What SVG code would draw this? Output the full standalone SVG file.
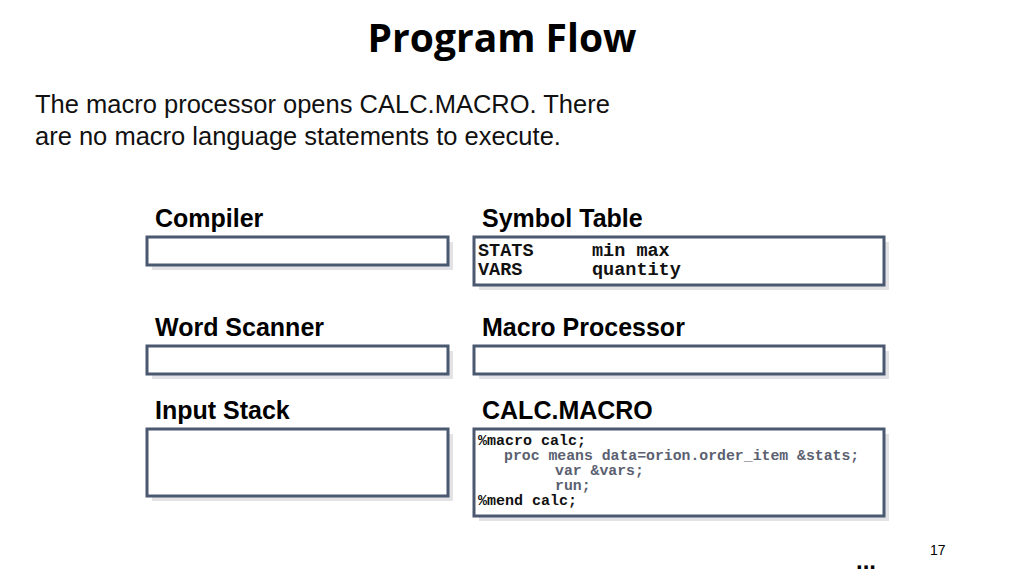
<svg xmlns="http://www.w3.org/2000/svg" width="1024" height="576" viewBox="0 0 1024 576">
<style>
.box{fill:#fff;stroke:#4a5870;stroke-width:3}
.sh{fill:#e3e3e6}
.lbl{font-family:"Liberation Sans",Arial,sans-serif;font-weight:bold;font-size:25px;fill:#000}
.code{font-family:"Liberation Mono","Courier New",monospace;font-weight:bold;font-size:15px;fill:#111}
.st{font-family:"Liberation Mono","Courier New",monospace;font-weight:bold;font-size:18.5px;fill:#111}
.code2{font-family:"Liberation Mono","Courier New",monospace;font-weight:bold;font-size:14.8px;fill:#5a6070}
</style>
<rect width="1024" height="576" fill="#fff"/>
<text x="502" y="52" text-anchor="middle" style="font-family:'Open Sans','Noto Sans',sans-serif;font-weight:bold;font-size:39px">Program Flow</text>
<text style="font-family:'Liberation Sans',Arial,sans-serif;font-size:25.5px" fill="#111"><tspan x="35" y="113">The macro processor opens CALC.MACRO. There</tspan><tspan x="35" y="145">are no macro language statements to execute.</tspan></text>
<g id="compiler"><text class="lbl" x="155" y="227">Compiler</text><rect class="sh" x="152" y="242" width="301" height="28"/><rect class="box" x="147" y="237" width="301" height="28"/></g>
<g id="symtab"><text class="lbl" x="482" y="227">Symbol Table</text><rect class="sh" x="479" y="242" width="410" height="48"/><rect class="box" x="474" y="237" width="410" height="48"/>
<text class="st" x="478" y="256">STATS</text><text class="st" x="592" y="256">min max</text>
<text class="st" x="478" y="275">VARS</text><text class="st" x="592" y="275">quantity</text></g>
<g id="scanner"><text class="lbl" x="155" y="336">Word Scanner</text><rect class="sh" x="152" y="351" width="301" height="28"/><rect class="box" x="147" y="346" width="301" height="28"/></g>
<g id="macroproc"><text class="lbl" x="482" y="336">Macro Processor</text><rect class="sh" x="479" y="351" width="410" height="28"/><rect class="box" x="474" y="346" width="410" height="28"/></g>
<g id="inputstack"><text class="lbl" x="155" y="419">Input Stack</text><rect class="sh" x="152" y="434" width="301" height="67"/><rect class="box" x="147" y="429" width="301" height="67"/></g>
<g id="calcmacro"><text class="lbl" x="482" y="419">CALC.MACRO</text><rect class="sh" x="479" y="434" width="410" height="87"/><rect class="box" x="474" y="429" width="410" height="87"/>
<text class="code" x="478" y="445">%macro calc;</text>
<text class="code2" x="504" y="460">proc means data=orion.order_item &amp;stats;</text>
<text class="code2" x="555" y="475">var &amp;vars;</text>
<text class="code2" x="555" y="490">run;</text>
<text class="code" x="478" y="505">%mend calc;</text></g>
<g id="connectors"/>
<text x="930" y="555" style="font-family:'Liberation Sans',Arial,sans-serif;font-size:14px">17</text>
<text x="856" y="569" style="font-family:'Liberation Sans',Arial,sans-serif;font-weight:bold;font-size:24px">...</text>
</svg>
